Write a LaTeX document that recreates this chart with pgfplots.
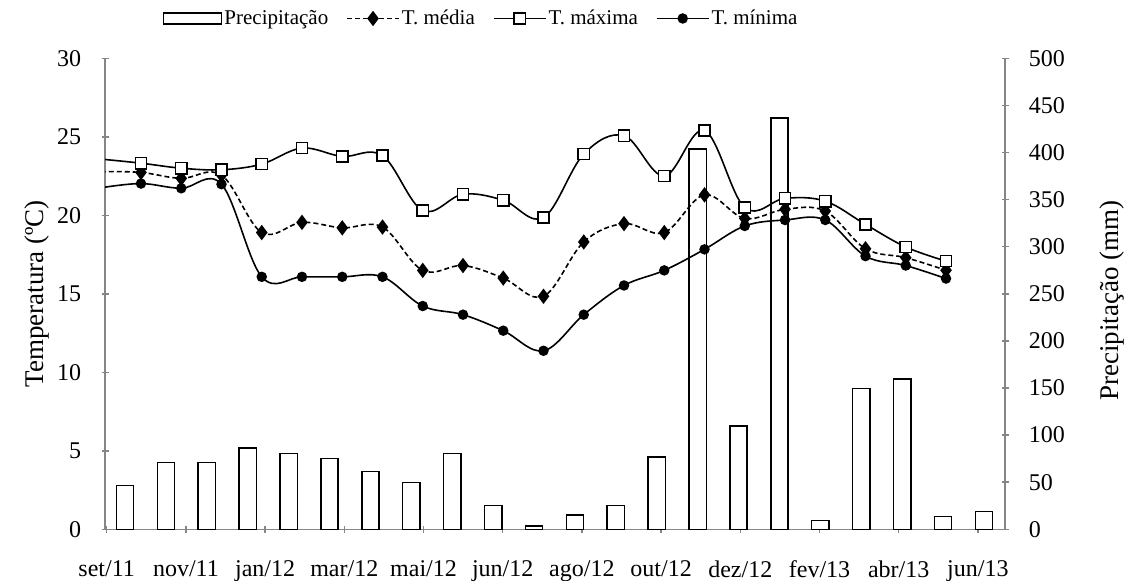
\documentclass[border=0pt]{standalone}
\usepackage{fontspec}
\setmainfont{Liberation Serif}
\usepackage{pgfplots}
\pgfplotsset{compat=1.18}
\usepackage{pgfplotstable}
\definecolor{axisgray}{HTML}{868686}

% x positions in pixel units of the original figure
\pgfplotstableread{
x prec
125.0 46.5
165.9 71.0
206.8 71.0
247.7 86.3
288.6 80.6
329.5 75.0
370.4 61.4
411.3 49.7
452.2 80.6
493.1 25.2
534.0 3.5
574.9 15.3
615.8 25.2
656.7 76.8
697.6 403.6
738.5 109.4
779.4 436.4
820.3 9.2
861.2 149.6
902.1 159.5
943.0 13.5
983.9 18.8
}\prectab

\pgfplotstableread{
x tmed tmax tmin
100.75 22.78 23.58 21.75
141.00 22.73 23.32 22.02
181.25 22.35 23.00 21.72
221.50 22.56 22.90 21.98
261.75 18.90 23.26 16.08
302.00 19.55 24.28 16.08
342.25 19.20 23.75 16.08
382.50 19.25 23.80 16.08
422.75 16.49 20.30 14.22
463.00 16.80 21.34 13.67
503.25 16.00 20.96 12.65
543.50 14.84 19.85 11.37
583.75 18.30 23.90 13.67
624.00 19.47 25.07 15.53
664.25 18.90 22.50 16.49
704.50 21.30 25.40 17.83
744.75 19.80 20.49 19.32
785.00 20.38 21.08 19.70
825.25 20.27 20.90 19.70
865.50 17.87 19.42 17.40
905.75 17.30 17.98 16.80
946.00 16.50 17.08 15.97
}\temptab

\begin{document}
\begin{tikzpicture}
\path[use as bounding box] (0,0) rectangle (565pt,290.5pt);
\pgfplotsset{
  common/.style={
    at={(52.5pt,25.85pt)}, anchor=south west,
    scale only axis, width=450pt, height=235.5pt,
    xmin=105, xmax=1005,
    /pgf/number format/assume math mode=true,
    tick style={draw=axisgray, line width=0.75pt},
    major tick length=3.5pt, tick align=outside,
    tick label style={font=\fontsize{12}{14}\selectfont},
  },
  noarrows/.style={
    axis line style={draw=axisgray, line width=0.75pt, -},
    every outer x axis line/.append style={-},
    every outer y axis line/.append style={-},
    x axis line style={-}, y axis line style={-},
  }
}
\begin{axis}[common,
  ymin=0, ymax=500,
  axis x line=bottom, axis y line=right, noarrows,
  xtick={106.7,185.9,265.1,344.3,423.5,502.7,581.9,661.1,740.3,819.5,898.7,977.9},
  xticklabels={set/11,nov/11,jan/12,mar/12,mai/12,jun/12,ago/12,out/12,dez/12,fev/13,abr/13,jun/13},
  xticklabel style={anchor=north, inner sep=0pt, yshift=-13.7pt},
  ytick={0,50,...,500},
  yticklabel style={anchor=west, inner sep=0pt, xshift=10pt},
  ylabel={Precipitação (mm)},
  ylabel style={at={(axis description cs:1.119,0.485)}, anchor=center, rotate=0, font=\fontsize{13.5}{15}\selectfont},
]
\addplot[ybar, bar width=17.3, draw=black, fill=white, line width=0.75pt] table[x=x,y=prec]{\prectab};
\end{axis}
\begin{axis}[common,
  ymin=0, ymax=30,
  axis x line=none, axis y line=left, noarrows,
  ytick={0,5,...,30},
  yticklabel style={anchor=east, inner sep=0pt, xshift=-10pt},
  ylabel={Temperatura (ºC)},
  ylabel style={at={(axis description cs:-0.0756,0.5)}, anchor=center, font=\fontsize{13.5}{15}\selectfont},
  clip marker paths=true,
  legend columns=4,
  legend style={at={(axis description cs:0.418,1.0845)}, anchor=center, draw=none, fill=none,
    font=\fontsize{10.5}{12}\selectfont, nodes={inner sep=1pt},
    /tikz/every even column/.append style={column sep=8pt}},
  legend image code/.code={\draw[mark repeat=2, mark phase=2, #1] plot coordinates {(0pt,0pt) (13pt,0pt) (26pt,0pt)};},
]
\addlegendimage{legend image code/.code={\draw[draw=black, fill=white, line width=0.75pt] (0pt,-2.75pt) rectangle (29pt,2.75pt);}}
\addlegendentry{Precipitação}
\addplot[black, line width=0.8pt, dashed, dash pattern=on 2.5pt off 1.5pt, smooth, tension=0.6,
  mark=diamond*, mark size=3.2pt, mark options={solid, fill=black}] table[x=x,y=tmed]{\temptab};
\addlegendentry{T. média}
\addplot[black, line width=0.8pt, smooth, tension=0.6,
  mark=square*, mark size=2.8pt, mark options={solid, fill=white, draw=black, line width=0.75pt}] table[x=x,y=tmax]{\temptab};
\addlegendentry{T. máxima}
\addplot[black, line width=0.8pt, smooth, tension=0.6,
  mark=*, mark size=2.2pt, mark options={solid, fill=black}] table[x=x,y=tmin]{\temptab};
\addlegendentry{T. mínima}
\end{axis}
\end{tikzpicture}
\end{document}
